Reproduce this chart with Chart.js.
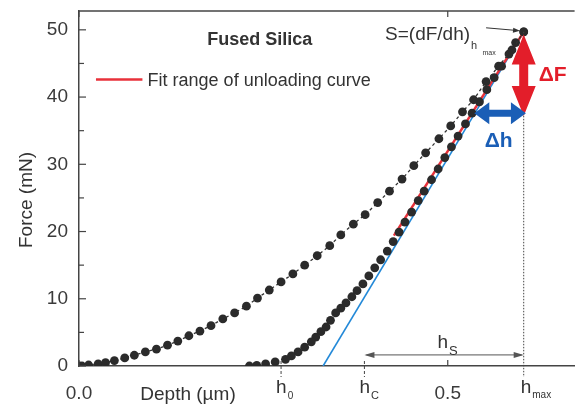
<!DOCTYPE html>
<html>
<head>
    <title>Fused Silica - Force vs Depth</title>
    <style>
        body { margin: 0; background: #fff; }
        .chart-container { width: 579px; height: 408px; position: relative; }
    </style>
    <script src="https://cdn.jsdelivr.net/npm/chart.js"></script>
</head>
<body>
    <div class="chart-container">
        <canvas id="myChart"></canvas>
    </div>

    <script>
        // loading curve
        const loadDepth = [0, 0.004, 0.013, 0.026, 0.036, 0.048, 0.062, 0.075, 0.090, 0.105, 0.120, 0.134, 0.149, 0.164, 0.179, 0.195, 0.211, 0.227, 0.242, 0.258, 0.274, 0.290, 0.306, 0.323, 0.340, 0.355, 0.372, 0.388, 0.405, 0.421, 0.438, 0.454, 0.470, 0.488, 0.504, 0.520, 0.535, 0.552, 0.569, 0.587, 0.603];
        const loadForce = [0, 0, 0.15, 0.3, 0.5, 0.8, 1.2, 1.6, 2.1, 2.5, 3.1, 3.7, 4.5, 5.2, 6.0, 7.0, 7.9, 8.9, 10.1, 11.3, 12.5, 13.7, 15.0, 16.4, 17.9, 19.5, 21.1, 22.5, 24.3, 26.0, 27.8, 29.8, 31.7, 33.8, 35.7, 37.8, 39.6, 42.3, 44.6, 47.0, 49.7];

        // unloading curve
        const unloadDepth = [0.603, 0.592, 0.583, 0.573, 0.563, 0.553, 0.543, 0.533, 0.524, 0.514, 0.505, 0.496, 0.487, 0.478, 0.468, 0.460, 0.451, 0.442, 0.434, 0.426, 0.418, 0.409, 0.401, 0.393, 0.385, 0.377, 0.370, 0.362, 0.355, 0.348, 0.341, 0.335, 0.328, 0.321, 0.315, 0.306, 0.297, 0.288, 0.280, 0.266, 0.253, 0.241, 0.231];
        const unloadForce = [49.7, 48.1, 46.4, 44.6, 42.9, 41.1, 39.3, 37.6, 36.0, 34.2, 32.6, 31.0, 29.3, 27.7, 26.0, 24.6, 22.9, 21.4, 19.9, 18.5, 17.1, 15.8, 14.6, 13.4, 12.2, 11.2, 10.3, 9.4, 8.6, 7.9, 6.8, 5.8, 5.1, 4.3, 3.6, 2.8, 2.1, 1.5, 1.0, 0.6, 0.3, 0.1, 0.0];

        // fit range and tangent
        const fitDepth = [0.427, 0.603];
        const fitForce = [19.4, 49.7];
        const tangentDepth = [0.331, 0.603];
        const tangentForce = [0, 49.7];

        // characteristic depths
        const h0 = 0.274, hc = 0.387, hmax = 0.603, Fmax = 49.7;
        const deltaF = [49.3, 37.2];
        const deltaH = [0.536, 0.606];
        const hsForce = 1.65;

        const xTicks = [0, 0.5];
        const yTicks = [0, 10, 20, 30, 40, 50];

        const zip = (xs, ys) => xs.map((v, i) => ({ x: v, y: ys[i] }));

        Chart.defaults.font.family = "'Liberation Sans', Arial, sans-serif";
        Chart.defaults.color = '#3a3a3a';

        function line(ctx, x1, y1, x2, y2) {
            ctx.beginPath(); ctx.moveTo(x1, y1); ctx.lineTo(x2, y2); ctx.stroke();
        }

        // double headed block arrow from (x1,y1) to (x2,y2)
        function blockArrow(ctx, x1, y1, x2, y2, headLen, headHalf, shaftHalf, color) {
            const ang = Math.atan2(y2 - y1, x2 - x1);
            const L = Math.hypot(x2 - x1, y2 - y1);
            ctx.save();
            ctx.translate(x1, y1); ctx.rotate(ang);
            ctx.fillStyle = color;
            ctx.beginPath();
            ctx.moveTo(0, 0);
            ctx.lineTo(headLen, -headHalf);
            ctx.lineTo(headLen, -shaftHalf);
            ctx.lineTo(L - headLen, -shaftHalf);
            ctx.lineTo(L - headLen, -headHalf);
            ctx.lineTo(L, 0);
            ctx.lineTo(L - headLen, headHalf);
            ctx.lineTo(L - headLen, shaftHalf);
            ctx.lineTo(headLen, shaftHalf);
            ctx.lineTo(headLen, headHalf);
            ctx.closePath();
            ctx.fill();
            ctx.restore();
        }

        function arrowHead(ctx, x1, y1, x2, y2, len, half) {
            const ang = Math.atan2(y2 - y1, x2 - x1);
            ctx.save();
            ctx.translate(x2, y2); ctx.rotate(ang);
            ctx.beginPath();
            ctx.moveTo(0, 0); ctx.lineTo(-len, -half); ctx.lineTo(-len, half); ctx.closePath();
            ctx.fill();
            ctx.restore();
        }

        // text with subscript, left aligned at x, baseline y
        function subText(ctx, x, y, main, size, sub, subSize, subDy, bold) {
            ctx.font = (bold ? 'bold ' : '') + size + "px 'Liberation Sans', Arial";
            ctx.textAlign = 'left'; ctx.textBaseline = 'alphabetic';
            ctx.fillText(main, x, y);
            const w = ctx.measureText(main).width;
            if (sub) {
                ctx.font = subSize + "px 'Liberation Sans', Arial";
                ctx.fillText(sub, x + w + 1, y + subDy);
            }
        }

        const overlay = {
            id: 'overlay',
            afterDraw(chart) {
                const { ctx, chartArea: a, scales: { x, y } } = chart;
                const px = v => x.getPixelForValue(v);
                const py = v => y.getPixelForValue(v);
                ctx.save();

                // frame top
                ctx.strokeStyle = '#444'; ctx.lineWidth = 1.5;
                line(ctx, a.left, a.top, a.right, a.top);

                // inward ticks
                ctx.lineWidth = 1.2;
                for (let v = 0; v <= 50; v += 5) {
                    const len = v % 10 ? 5 : 7;
                    line(ctx, a.left, py(v), a.left + len, py(v));
                }
                xTicks.forEach(v => {
                    line(ctx, px(v), a.bottom, px(v), a.bottom - 6);
                    line(ctx, px(v), a.top, px(v), a.top + 6);
                });

                // dashed marks at h0, hc
                ctx.lineWidth = 1;
                ctx.setLineDash([3, 2]);
                [h0, hc].forEach(v => line(ctx, px(v), a.bottom - 5, px(v), a.bottom + 11));
                // dotted line at hmax
                ctx.setLineDash([1.5, 1.5]);
                line(ctx, px(hmax), py(Fmax), px(hmax), a.bottom + 11);
                ctx.setLineDash([]);

                // hs arrow
                ctx.strokeStyle = '#555'; ctx.fillStyle = '#555'; ctx.lineWidth = 1;
                const yHs = py(hsForce);
                line(ctx, px(hc) + 2, yHs, px(hmax) - 2, yHs);
                arrowHead(ctx, px(hmax), yHs, px(hc), yHs, 10, 3);
                arrowHead(ctx, px(hc), yHs, px(hmax), yHs, 10, 3);

                // delta F and delta h arrows
                blockArrow(ctx, px(hmax), py(deltaF[0]), px(hmax), py(deltaF[1]), 30, 12, 4.5, '#e31e2a');
                blockArrow(ctx, px(deltaH[0]), py(37.6), px(deltaH[1]), py(37.6), 15, 11, 3.5, '#1a5eb6');

                ctx.fillStyle = '#e31e2a';
                ctx.font = "bold 21px 'Liberation Sans', Arial";
                ctx.textAlign = 'left'; ctx.textBaseline = 'alphabetic';
                ctx.fillText('\u0394F', px(hmax) + 15, py(42.4));
                ctx.fillStyle = '#1a5eb6';
                ctx.fillText('\u0394h', px(0.550), py(32.6));

                // S label and arrow
                ctx.fillStyle = '#333'; ctx.strokeStyle = '#333';
                subText(ctx, px(0.415), py(48.5), 'S=(dF/dh)', 19, 'h', 11, 9, false);
                ctx.font = "7px 'Liberation Sans', Arial";
                ctx.fillText('max', px(0.547), py(46.3));
                ctx.lineWidth = 1;
                line(ctx, px(0.552), py(50.3), px(0.594), py(49.9));
                arrowHead(ctx, px(0.552), py(50.3), px(0.598), py(49.85), 7, 2.5);

                // title
                ctx.font = "bold 18px 'Liberation Sans', Arial";
                ctx.textAlign = 'center';
                ctx.fillText('Fused Silica', px(0.245), py(47.8));

                // legend
                ctx.strokeStyle = '#e8313a'; ctx.lineWidth = 2.5;
                line(ctx, px(0.023), py(42.6), px(0.086), py(42.6));
                ctx.font = "18px 'Liberation Sans', Arial";
                ctx.textAlign = 'left'; ctx.textBaseline = 'middle';
                ctx.fillText('Fit range of unloading curve', px(0.093), py(42.6) + 1);

                // x special labels
                ctx.textBaseline = 'alphabetic';
                const yb = a.bottom + 27;
                subText(ctx, px(h0) - 5, yb, 'h', 19, '0', 10, 6, false);
                subText(ctx, px(hc) - 5, yb, 'h', 19, 'C', 11, 6, false);
                subText(ctx, px(hmax) - 3, yb, 'h', 19, 'max', 10, 5, false);
                subText(ctx, px(0.486), a.bottom - 18, 'h', 19, 'S', 13, 7, false);

                // axis titles
                ctx.font = "19px 'Liberation Sans', Arial";
                ctx.textAlign = 'center';
                ctx.fillText('Depth (\u00b5m)', 188, 400);
                ctx.save();
                ctx.translate(32, 200);
                ctx.rotate(-Math.PI / 2);
                ctx.fillText('Force (mN)', 0, 0);
                ctx.restore();

                ctx.restore();
            }
        };

        const ctx = document.getElementById('myChart').getContext('2d');
        const myChart = new Chart(ctx, {
            type: 'scatter',
            data: {
                datasets: [
                    {
                        label: 'Loading',
                        data: zip(loadDepth, loadForce),
                        showLine: true,
                        borderColor: '#333',
                        borderWidth: 1.3,
                        borderDash: [3, 3],
                        pointRadius: 4.4,
                        pointBackgroundColor: '#2b2b2b',
                        pointBorderWidth: 0
                    },
                    {
                        label: 'Unloading',
                        data: zip(unloadDepth, unloadForce),
                        showLine: false,
                        pointRadius: 4.4,
                        pointBackgroundColor: '#2b2b2b',
                        pointBorderWidth: 0
                    },
                    {
                        label: 'Fit range of unloading curve',
                        data: zip(fitDepth, fitForce),
                        showLine: true,
                        borderColor: '#e8313a',
                        borderWidth: 2.5,
                        pointRadius: 0
                    },
                    {
                        label: 'Tangent',
                        data: zip(tangentDepth, tangentForce),
                        showLine: true,
                        borderColor: '#2389d8',
                        borderWidth: 1.6,
                        pointRadius: 0
                    }
                ]
            },
            options: {
                responsive: true,
                maintainAspectRatio: false,
                animation: false,
                layout: { padding: { top: 11, left: 0, right: 0, bottom: 0 } },
                plugins: { legend: { display: false }, tooltip: { enabled: false } },
                scales: {
                    x: {
                        type: 'linear',
                        min: 0,
                        max: 0.672,
                        afterFit: s => { s.height = 42; s.paddingLeft = 0; s.paddingRight = 0; },
                        afterBuildTicks: s => { s.ticks = xTicks.map(v => ({ value: v })); },
                        grid: { display: false },
                        border: { display: true, color: '#444', width: 1.5 },
                        ticks: {
                            padding: 8,
                            color: '#3a3a3a',
                            font: { size: 19 },
                            maxRotation: 0,
                            callback: v => v.toFixed(1)
                        }
                    },
                    y: {
                        type: 'linear',
                        min: 0,
                        max: 52.8,
                        afterFit: s => { s.width = 79; s.paddingTop = 0; s.paddingBottom = 0; },
                        afterBuildTicks: s => { s.ticks = yTicks.map(v => ({ value: v })); },
                        grid: { display: false },
                        border: { display: true, color: '#444', width: 1.5 },
                        ticks: {
                            padding: 3,
                            color: '#3a3a3a',
                            font: { size: 19 }
                        }
                    }
                }
            },
            plugins: [overlay]
        });
    </script>
</body>
</html>
